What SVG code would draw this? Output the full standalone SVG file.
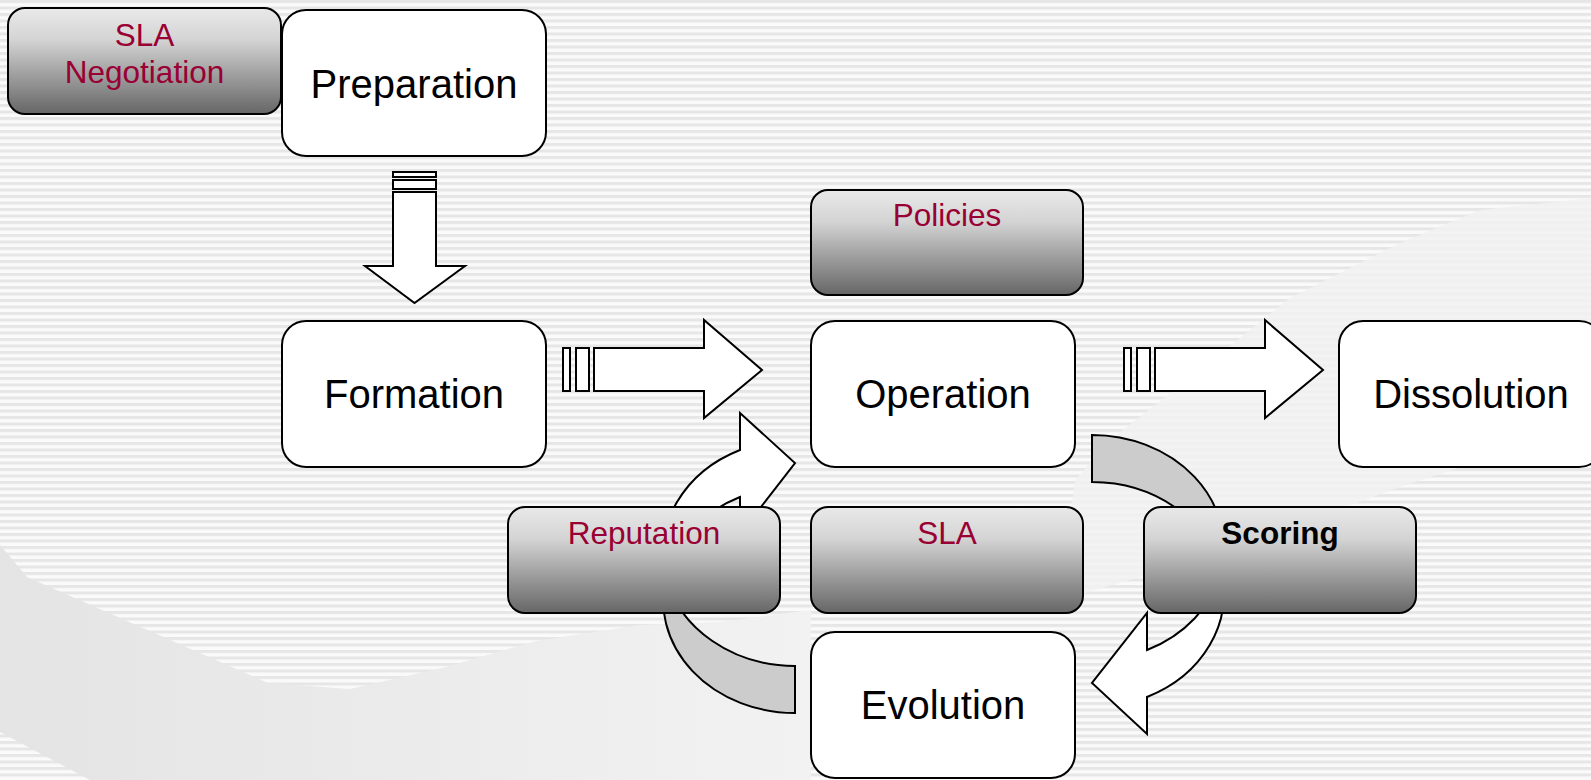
<svg xmlns="http://www.w3.org/2000/svg" width="1591" height="780" viewBox="0 0 1591 780">
  <defs>
    <pattern id="stripes" patternUnits="userSpaceOnUse" width="10" height="6.5">
      <rect width="10" height="6.5" fill="#fafafa"/>
      <rect width="10" height="3" fill="#e6e6e6"/>
    </pattern>
    <linearGradient id="shade" x1="0" y1="0" x2="0" y2="1">
      <stop offset="0" stop-color="#e9e9e9"/>
      <stop offset="0.3" stop-color="#d4d4d4"/>
      <stop offset="0.6" stop-color="#a4a4a4"/>
      <stop offset="1" stop-color="#666666"/>
    </linearGradient>
    <linearGradient id="swoosh" x1="0" y1="0" x2="1" y2="0">
      <stop offset="0" stop-color="#e4e4e4"/>
      <stop offset="1" stop-color="#f2f2f2"/>
    </linearGradient>
  </defs>
  <style>
    .box{fill:#fff;stroke:#000;stroke-width:2}
    .tag{fill:url(#shade);stroke:#000;stroke-width:2}
    .big{font-family:"Liberation Sans",Arial,sans-serif;font-size:40px;fill:#000;text-anchor:middle}
    .lbl{font-family:"Liberation Sans",Arial,sans-serif;font-size:31.5px;fill:#990033;text-anchor:middle}
    .bold{font-weight:bold;fill:#000}
    .arrow{fill:#fff;stroke:#000;stroke-width:2}
    .back{fill:#cccccc;stroke:#000;stroke-width:2}
  </style>

  <!-- backdrop: striped field with pale swooshes -->
  <g id="backdrop">
    <rect width="1591" height="780" fill="url(#stripes)"/>
    <path d="M0,545 L27,577 L268,683 L350,689 L446,667 L536,641 L640,625 L720,622 L811,610 L811,780 L90,780 L0,732 Z" fill="url(#swoosh)"/>
    <path d="M1591,198 L1480,210 L1400,243 L1290,298 L1190,378 L1110,440 L1075,480 L1060,600 L1200,560 L1400,487 L1591,425 Z" fill="#f1f1f1" opacity="0.85"/>
  </g>

  <!-- connectors -->
  <g id="connectors">
    <!-- Preparation -> Formation -->
    <rect class="arrow" x="393" y="172" width="43" height="5"/>
    <rect class="arrow" x="393" y="180" width="43" height="9"/>
    <path class="arrow" d="M393,192 L436,192 L436,266 L465,266 L414.5,303 L365,266 L393,266 Z"/>
    <!-- Formation -> Operation -->
    <rect class="arrow" x="563" y="348" width="7" height="43"/>
    <rect class="arrow" x="576" y="348" width="13" height="43"/>
    <path class="arrow" d="M594,348 L704,348 L704,320 L762,370 L704,418 L704,391 L594,391 Z"/>
    <!-- Operation -> Dissolution -->
    <rect class="arrow" x="1124" y="348" width="7" height="43"/>
    <rect class="arrow" x="1137" y="348" width="13" height="43"/>
    <path class="arrow" d="M1155,348 L1265,348 L1265,320 L1323,370 L1265,418 L1265,391 L1155,391 Z"/>
    <!-- Evolution -> Operation (curved, via Reputation) -->
    <path class="back" d="M795,713 A132,113 0 0 1 666,576.5 A132,113 0 0 0 795,666 Z"/>
    <path class="arrow" d="M666,576.5 A132,113 0 0 1 740,450 L740,413 L795,463 L740,534 L740,497 A132,113 0 0 0 666,576.5 Z"/>
    <!-- Operation -> Evolution (curved, via Scoring) -->
    <path class="back" d="M1092,435 A132,113 0 0 1 1221,571.5 A132,113 0 0 0 1092,482 Z"/>
    <path class="arrow" d="M1221,571.5 A132,113 0 0 1 1147,697 L1147,734 L1092,683 L1147,613 L1147,650 A132,113 0 0 0 1221,571.5 Z"/>
  </g>

  <!-- phase nodes -->
  <g id="preparation">
    <rect class="box" x="282" y="10" width="264" height="146" rx="24"/>
    <text class="big" x="414" y="98">Preparation</text>
  </g>
  <g id="formation">
    <rect class="box" x="282" y="321" width="264" height="146" rx="24"/>
    <text class="big" x="414" y="408">Formation</text>
  </g>
  <g id="operation">
    <rect class="box" x="811" y="321" width="264" height="146" rx="24"/>
    <text class="big" x="943" y="408">Operation</text>
  </g>
  <g id="dissolution">
    <rect class="box" x="1339" y="321" width="264" height="146" rx="24"/>
    <text class="big" x="1471" y="408">Dissolution</text>
  </g>
  <g id="evolution">
    <rect class="box" x="811" y="632" width="264" height="146" rx="24"/>
    <text class="big" x="943" y="719">Evolution</text>
  </g>

  <!-- supporting mechanisms -->
  <g id="sla-negotiation">
    <rect class="tag" x="8" y="8" width="273" height="106" rx="17"/>
    <text class="lbl" x="144.5" y="46">SLA</text>
    <text class="lbl" x="144.5" y="83">Negotiation</text>
  </g>
  <g id="policies">
    <rect class="tag" x="811" y="190" width="272" height="105" rx="17"/>
    <text class="lbl" x="947" y="226">Policies</text>
  </g>
  <g id="reputation">
    <rect class="tag" x="508" y="507" width="272" height="106" rx="17"/>
    <text class="lbl" x="644" y="544">Reputation</text>
  </g>
  <g id="sla">
    <rect class="tag" x="811" y="507" width="272" height="106" rx="17"/>
    <text class="lbl" x="947" y="544">SLA</text>
  </g>
  <g id="scoring">
    <rect class="tag" x="1144" y="507" width="272" height="106" rx="17"/>
    <text class="lbl bold" x="1280" y="544">Scoring</text>
  </g>
</svg>
